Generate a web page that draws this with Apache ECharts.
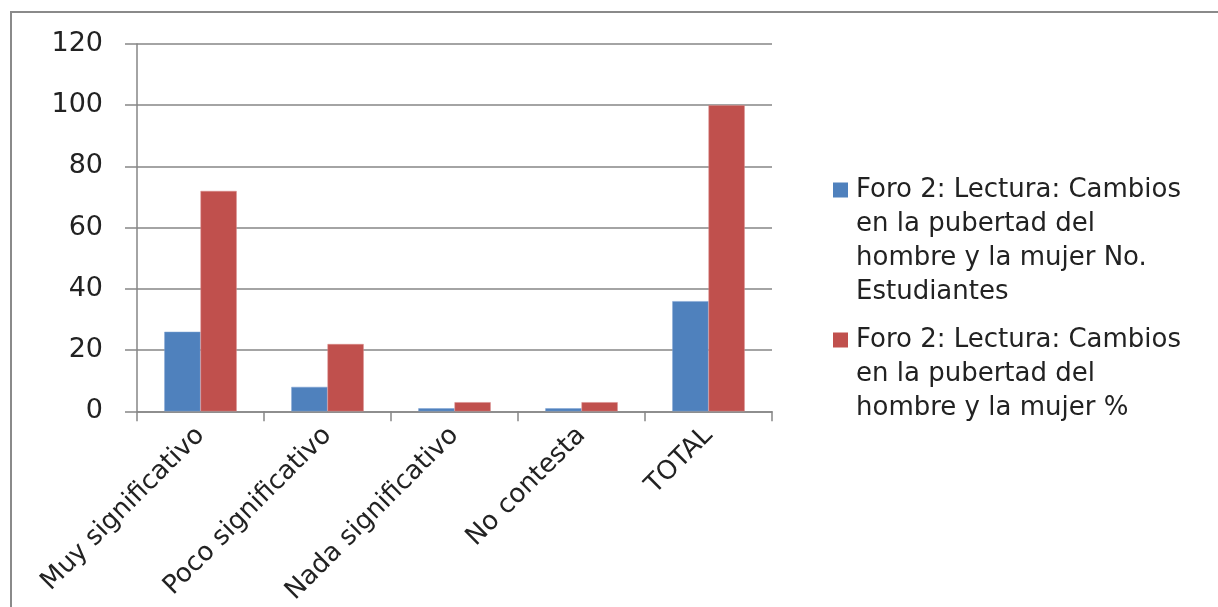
<!DOCTYPE html>
<html>
<head>
<meta charset="utf-8">
<script src="https://cdn.jsdelivr.net/npm/echarts@6/dist/echarts.min.js"></script>
<style>
html,body{margin:0;padding:0;background:#fff;}
#chart{width:1218px;height:607px;}
</style>
</head>
<body>
<div id="chart"></div>
<script>
const categories = ['Muy significativo', 'Poco significativo', 'Nada significativo', 'No contesta', 'TOTAL'];
const seriesNames = [
  'Foro 2: Lectura: Cambios en la pubertad del hombre y la mujer No. Estudiantes',
  'Foro 2: Lectura: Cambios en la pubertad del hombre y la mujer %'
];
const legendLines = [
  ['Foro 2: Lectura: Cambios', 'en la pubertad del', 'hombre y la mujer No.', 'Estudiantes'],
  ['Foro 2: Lectura: Cambios', 'en la pubertad del', 'hombre y la mujer %']
];
const estudiantes = [26, 8, 1, 1, 36];
const porcentaje = [72, 22, 3, 3, 100];
const yTicks = [0, 20, 40, 60, 80, 100, 120];
const colors = ['#4F81BD', '#C0504D'];

const FONT = 'DejaVu Sans';
const chart = echarts.init(document.getElementById('chart'));

const option = {
  backgroundColor: '#fff',
  animation: false,
  graphic: [{
    type: 'rect',
    shape: { x: 11, y: 12, width: 1400, height: 800 },
    style: { fill: 'none', stroke: '#8a8a8a', lineWidth: 2 },
    silent: true
  }],
  grid: { left: 137, right: 446, top: 44, bottom: 195, containLabel: false },
  legend: {
    orient: 'vertical',
    left: 822,
    top: 172,
    itemWidth: 0,
    itemHeight: 0,
    itemGap: 22,
    icon: 'rect',
    data: seriesNames,
    formatter: function (name) {
      const idx = seriesNames.indexOf(name);
      const lines = legendLines[idx];
      const sq = idx === 0 ? 'sqA' : 'sqB';
      return lines.map(function (l, i) {
        return (i === 0 ? '{' + sq + '|}' : '{pad|}') + '{t|' + l + '}';
      }).join('\n');
    },
    textStyle: {
      rich: {
        sqA: { width: 15, height: 15, backgroundColor: colors[0] },
        sqB: { width: 15, height: 15, backgroundColor: colors[1] },
        pad: { width: 15, height: 15 },
        t: { fontFamily: FONT, fontSize: 26, color: '#222', lineHeight: 34, padding: [0, 0, 0, 8] }
      }
    }
  },
  xAxis: {
    type: 'category',
    data: categories,
    axisLine: { show: true, lineStyle: { color: '#868686', width: 1.5 } },
    axisTick: { show: true, length: 10, alignWithLabel: false, lineStyle: { color: '#868686', width: 1.5 } },
    axisLabel: {
      rotate: 45,
      interval: 0,
      margin: 20,
      fontFamily: FONT,
      fontSize: 26,
      color: '#222'
    }
  },
  yAxis: {
    type: 'value',
    min: 0,
    max: 120,
    interval: 20,
    axisLine: { show: true, lineStyle: { color: '#868686', width: 1.5 } },
    axisTick: { show: true, length: 12, lineStyle: { color: '#868686', width: 1.5 } },
    splitLine: { show: true, lineStyle: { color: '#868686', width: 1.5 } },
    axisLabel: {
      margin: 34,
      fontFamily: FONT,
      fontSize: 27,
      color: '#222',
      formatter: function (v) { return yTicks.indexOf(v) >= 0 ? String(v) : ''; }
    }
  },
  series: [
    {
      name: seriesNames[0],
      type: 'bar',
      data: estudiantes,
      barGap: '0%',
      barCategoryGap: '43%',
      itemStyle: { color: colors[0], borderColor: '#7ea3d3', borderWidth: 0.5 }
    },
    {
      name: seriesNames[1],
      type: 'bar',
      data: porcentaje,
      barGap: '0%',
      barCategoryGap: '43%',
      itemStyle: { color: colors[1], borderColor: '#d98a88', borderWidth: 0.5 }
    }
  ]
};
chart.setOption(option);
</script>
</body>
</html>
